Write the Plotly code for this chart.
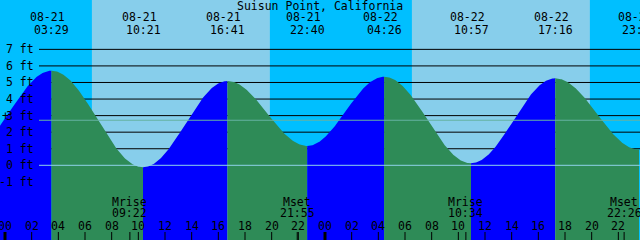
import numpy as np
import plotly.graph_objects as go

# ---- data ----
title = "Suisun Point, California"
tide_dates = ["08-20", "08-21", "08-21", "08-21", "08-21", "08-22", "08-22", "08-22", "08-22"]
tide_times = ["21:24", "03:29", "10:21", "16:41", "22:40", "04:26", "10:57", "17:16", "23:33"]
tide_heights = [1.0, 5.71, -0.12, 5.09, 1.17, 5.35, 0.12, 5.25, 0.95]
tide_label_shown = [False, True, True, True, True, True, True, True, True]

sun_dates = ["08-21", "08-22"]
sunrise_times = ["06:31", "06:31"]
sunset_times = ["19:52", "19:52"]

moon_dates = ["08-21", "08-21", "08-22", "08-22"]
moon_times = ["09:22", "21:55", "10:34", "22:26"]
moon_events = ["Mrise", "Mset", "Mrise", "Mset"]

ft_levels = [-1, 0, 1, 2, 3, 4, 5, 6, 7]
mean_level = 2.72
hour_ticks = list(range(0, 50, 2))
x_range = [-0.375, 47.625]
y_range = [-4.51, 9.98]

FONT = "DejaVu Sans Mono"
FS = 11.5
W, H = 640, 240


def to_hours(d, t):
    day = int(d.split("-")[1]) - 21
    hh, mm = t.split(":")
    return day * 24 + int(hh) + int(mm) / 60.0


tide_h = [to_hours(d, t) for d, t in zip(tide_dates, tide_times)]
fig = go.Figure()
shapes = []
ann = []

# background night/day bands
shapes.append(dict(type="rect", xref="x", yref="paper", x0=x_range[0] - 1, x1=x_range[1] + 1,
                   y0=0, y1=1, fillcolor="#00BFFF", line_width=0, layer="below"))
for d, sr, ss in zip(sun_dates, sunrise_times, sunset_times):
    shapes.append(dict(type="rect", xref="x", yref="paper", x0=to_hours(d, sr), x1=to_hours(d, ss),
                       y0=0, y1=1, fillcolor="#87CEEB", line_width=0, layer="below"))

# black level lines (behind tide)
for lv in ft_levels:
    if lv >= 1:
        shapes.append(dict(type="line", xref="paper", yref="y", x0=39 / W, x1=1, y0=lv, y1=lv,
                           line=dict(color="black", width=1), layer="below"))

# tide fill segments
for i in range(len(tide_h) - 1):
    t0, t1 = tide_h[i], tide_h[i + 1]
    h0, h1 = tide_heights[i], tide_heights[i + 1]
    tt = np.linspace(t0, t1, 120)
    f = (tt - t0) / (t1 - t0)
    yy = h0 + (h1 - h0) * (1 - np.cos(np.pi * f)) / 2
    xs = list(tt) + [t1, t0, t0]
    ys = list(yy) + [y_range[0] - 1, y_range[0] - 1, h0]
    color = "#0000FF" if h1 > h0 else "#2E8B57"
    fig.add_trace(go.Scatter(x=xs, y=ys, mode="lines", fill="toself", fillcolor=color,
                             line=dict(width=0, color=color), hoverinfo="skip", showlegend=False))

# light lines over the tide
shapes.append(dict(type="line", xref="paper", yref="y", x0=39 / W, x1=1, y0=0, y1=0,
                   line=dict(color="#8FD3EA", width=1), layer="above"))
shapes.append(dict(type="line", xref="paper", yref="y", x0=39 / W, x1=1, y0=mean_level, y1=mean_level,
                   line=dict(color="#66B2A2", width=1), layer="above"))

# y labels
for lv in ft_levels:
    ann.append(dict(xref="paper", yref="y", x=36 / W, y=lv, xanchor="right", yanchor="middle",
                    text=f"{lv} ft", showarrow=False))
ann.append(dict(xref="paper", yref="y", x=5 / W, y=3, xanchor="center", yanchor="middle",
                text="+", showarrow=False))

# title
ann.append(dict(xref="paper", yref="paper", x=0.5, y=1 - 5.5 / H, xanchor="center", yanchor="middle",
                text=title, showarrow=False))

# tide extreme labels
for d, t, h, show in zip(tide_dates, tide_times, tide_h, tide_label_shown):
    if not show:
        continue
    ann.append(dict(xref="x", yref="paper", x=h, y=1 - 17.5 / H, xanchor="center", yanchor="middle",
                    text=d, showarrow=False, xshift=-4))
    ann.append(dict(xref="x", yref="paper", x=h, y=1 - 29.5 / H, xanchor="center", yanchor="middle",
                    text=t, showarrow=False))

# moon labels and ticks
for d, t, ev in zip(moon_dates, moon_times, moon_events):
    h = to_hours(d, t)
    ann.append(dict(xref="x", yref="paper", x=h, y=1 - 202.3 / H, xanchor="center", yanchor="middle",
                    text=ev, showarrow=False))
    ann.append(dict(xref="x", yref="paper", x=h, y=1 - 213.3 / H, xanchor="center", yanchor="middle",
                    text=t, showarrow=False))
    shapes.append(dict(type="line", xref="x", yref="paper", x0=h, x1=h, y0=0, y1=8 / H,
                       line=dict(color="black", width=1), layer="above"))

# hour ticks and labels
for hr in hour_ticks:
    lab = f"{hr % 24:02d}"
    ann.append(dict(xref="x", yref="paper", x=hr, y=1 - 225.7 / H, xanchor="center", yanchor="middle",
                    text=lab, showarrow=False))
    shapes.append(dict(type="line", xref="x", yref="paper", x0=hr, x1=hr, y0=0, y1=8 / H,
                       line=dict(color="black", width=3 if hr % 24 == 0 else 1), layer="above"))

fig.update_layout(
    width=W, height=H, margin=dict(l=0, r=0, t=0, b=0),
    paper_bgcolor="#00BFFF", plot_bgcolor="#00BFFF",
    xaxis=dict(range=x_range, visible=False, fixedrange=True),
    yaxis=dict(range=y_range, visible=False, fixedrange=True),
    shapes=shapes, annotations=ann,
    font=dict(family=FONT, size=FS, color="black"),
    showlegend=False,
)
fig.write_html("out.html", config={"displayModeBar": False})
